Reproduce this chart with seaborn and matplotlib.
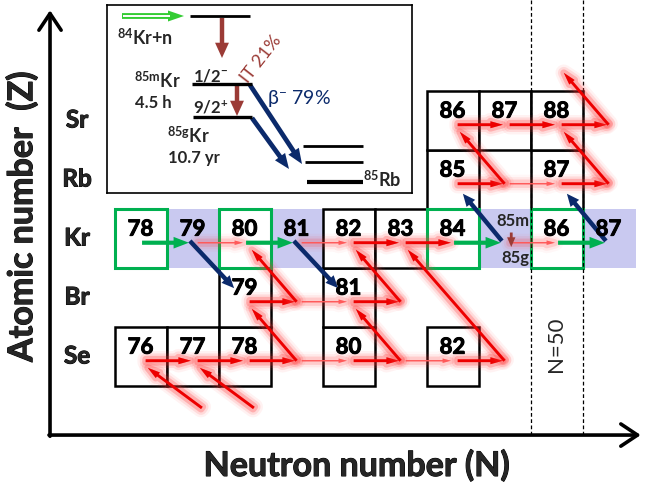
import matplotlib
matplotlib.use("Agg")
import matplotlib.pyplot as plt
import matplotlib.patheffects as pe
from matplotlib.patches import Rectangle, FancyArrowPatch, Polygon
import seaborn as sns

sns.set_theme(style="white")
plt.rcParams["font.family"] = ["Lato", "DejaVu Sans"]
plt.rcParams["mathtext.fontset"] = "custom"
plt.rcParams["mathtext.rm"] = "Lato"
plt.rcParams["mathtext.bf"] = "Lato:bold"
plt.rcParams["mathtext.it"] = "Lato:italic"

# ---------------- chart of nuclides: s-process path around Kr ----------------
element_symbols = ["Se", "Br", "Kr", "Rb", "Sr"]
element_Z = [34, 35, 36, 37, 38]

# boxed nuclides (Z, mass number A)
black_cells_Z = [34, 34, 34, 34, 34, 35, 35, 36, 36, 37, 37, 38, 38, 38]
black_cells_A = [76, 77, 78, 80, 82, 79, 81, 82, 83, 85, 87, 86, 87, 88]
green_cells_Z = [36, 36, 36, 36]
green_cells_A = [78, 80, 84, 86]
open_cells_Z = [36, 36, 36]
open_cells_A = [79, 81, 87]
isomer_Z = 36
isomer_A = 85

# neutron captures (Z, target A, kind): s = main flow, w = weak flow, g = Kr activation
capture_Z = [34, 34, 34, 34, 34, 34, 34,
             35, 35, 35,
             36, 36, 36, 36, 36, 36, 36, 36, 36,
             37, 37, 37,
             38, 38, 38]
capture_A = [76, 77, 78, 79, 80, 81, 82,
             79, 80, 81,
             78, 79, 80, 81, 82, 83, 84, 85, 86,
             85, 86, 87,
             86, 87, 88]
capture_kind = ["s", "s", "s", "w", "s", "w", "s",
                "s", "w", "s",
                "g", "w", "g", "w", "s", "s", "g", "w", "g",
                "s", "w", "s",
                "s", "s", "s"]

# beta-minus decays along the path (from Z, A) -> to Z
beta_from_Z = [34, 34, 34, 35, 35, 37, 37, 38, 33, 33]
beta_from_A = [79, 81, 83, 80, 82, 86, 88, 89, 76, 77]
beta_to_Z = [35, 35, 36, 36, 36, 38, 38, 39, 34, 34]

# Kr decays (from A) -> to Z
kr_decay_A = [79, 81, 85, 87]
kr_decay_to_Z = [35, 35, 37, 37]

magic_N = 50

# ---------------- colours ----------------
RED = (0.93, 0.0, 0.0)
WEAK_RED = (1.0, 0.35, 0.35)
GREEN = "#00b050"
NAVY = "#0b2a6b"
BROWN = "#9b3b36"
BAND = "#c9c9f0"

heavy = [pe.withStroke(linewidth=0.7, foreground="black")]

# ---------------- figure / coordinate frame (x = N, y = Z) ----------------
fig = plt.figure(figsize=(6.47, 4.82), dpi=100)
ax = fig.add_axes([0, 0, 1, 1])
px_n, px_z = 52.0, 59.0
ax.set_xlim(42 - 140.5 / px_n, 42 + (647 - 140.5) / px_n)
ax.set_ylim(36 - (482 - 238) / px_z, 36 + 238 / px_z)
ax.axis("off")

axis_n, axis_z = 40.26, 32.66

# Kr band
ax.add_patch(Rectangle((42.5, 35.5), 51.53 - 42.5, 1.0, facecolor=BAND,
                       edgecolor="none", zorder=1))

num_kw = dict(ha="center", va="center", fontsize=16, fontweight="bold",
              color="black", zorder=6, path_effects=heavy)
for z, a in zip(black_cells_Z, black_cells_A):
    n = a - z
    ax.add_patch(Rectangle((n - 0.5, z - 0.5), 1, 1, facecolor="white",
                           edgecolor="black", lw=1.8, zorder=2))
    ax.text(n, z + 0.15, str(a), **num_kw)
for z, a in zip(green_cells_Z, green_cells_A):
    n = a - z
    ax.add_patch(Rectangle((n - 0.5, z - 0.5), 1, 1, facecolor="white",
                           edgecolor=GREEN, lw=2.2, zorder=2.5))
    ax.text(n, z + 0.15, str(a), **num_kw)
for z, a in zip(open_cells_Z, open_cells_A):
    ax.text(a - z, z + 0.15, str(a), **num_kw)

# isomer / ground state of 85Kr
n85 = isomer_A - isomer_Z
ax.text(n85 + 0.16, isomer_Z + 0.29, f"{isomer_A}m", ha="center", va="center",
        fontsize=12, fontweight="bold", zorder=6)
ax.text(n85 + 0.2, isomer_Z - 0.34, f"{isomer_A}g", ha="center", va="center",
        fontsize=12, fontweight="bold", zorder=6)
ax.add_patch(FancyArrowPatch((n85 + 0.13, isomer_Z + 0.14), (n85 + 0.13, isomer_Z - 0.2),
                             arrowstyle="simple,head_length=0.35,head_width=0.3,tail_width=0.1",
                             mutation_scale=20, color=BROWN, lw=0, zorder=5))

# N = 50 shell closure
for xb in (magic_N - 0.5, magic_N + 0.5):
    ax.plot([xb, xb], [axis_z, ax.get_ylim()[1]], color="black", lw=0.9,
            ls=(0, (3, 2)), zorder=3)
ax.text(magic_N, 34.2, f"N={magic_N}", rotation=90, ha="center", va="center",
        fontsize=16, zorder=6)


def glow(weak=False):
    a = 0.6 if weak else 1.0
    return [pe.Stroke(linewidth=12, foreground=(1, 0.3, 0.3), alpha=0.07 * a),
            pe.Stroke(linewidth=8.5, foreground=(1, 0.25, 0.25), alpha=0.13 * a),
            pe.Stroke(linewidth=5, foreground=(1, 0.15, 0.15), alpha=0.24 * a),
            pe.Normal()]


def red_arrow(p0, p1, weak=False):
    if weak:
        style = "simple,head_length=0.3,head_width=0.16,tail_width=0.05"
        col = WEAK_RED
    else:
        style = "simple,head_length=0.45,head_width=0.25,tail_width=0.1"
        col = RED
    ax.add_patch(FancyArrowPatch(p0, p1, arrowstyle=style, mutation_scale=20,
                                 color=col, lw=0, shrinkA=0, shrinkB=0,
                                 path_effects=glow(weak), zorder=4))


# neutron captures
for z, a, k in zip(capture_Z, capture_A, capture_kind):
    n = a - z
    y = z - 0.08
    if k == "g":
        ax.add_patch(FancyArrowPatch((n + 0.03, y), (n + 0.93, y),
                                     arrowstyle="simple,head_length=0.55,head_width=0.42,tail_width=0.15",
                                     mutation_scale=20, color=GREEN, lw=0,
                                     shrinkA=0, shrinkB=0, zorder=4.5))
    else:
        red_arrow((n + 0.1, y), (n + 0.97, y), weak=(k == "w"))

# beta-minus decays
for z0, a, z1 in zip(beta_from_Z, beta_from_A, beta_to_Z):
    n0, n1 = a - z0, a - z1
    if z0 < element_Z[0]:
        start = (n0 + 0.18, z0 + 0.12)
    else:
        start = (n0, z0 - 0.08)
    red_arrow(start, (n1 + 0.14, z1 - 0.2))

# Kr decays
for a, z1 in zip(kr_decay_A, kr_decay_to_Z):
    z0 = 36
    n0, n1 = a - z0, a - z1
    start = (n0 - 0.05, z0 - 0.05)
    end = (n0 + 0.8 * (n1 - n0), z0 + 0.8 * (z1 - z0) - 0.05)
    ax.add_patch(FancyArrowPatch(start, end,
                                 arrowstyle="simple,head_length=0.45,head_width=0.4,tail_width=0.16",
                                 mutation_scale=20, color=NAVY, lw=0,
                                 shrinkA=0, shrinkB=0, zorder=5))

# element labels
for sym, z in zip(element_symbols, element_Z):
    ax.text(40.78, z, sym, ha="center", va="center", fontsize=17.5,
            fontweight="bold", zorder=6, path_effects=heavy)

# axes arrows
arrow_kw = dict(arrowstyle="->,head_length=0.6,head_width=0.4", lw=2.6,
                color="black", shrinkA=0, shrinkB=0, mutation_scale=20)
ax.annotate("", xy=(axis_n, 39.86), xytext=(axis_n, axis_z - 0.02), arrowprops=arrow_kw)
ax.annotate("", xy=(51.62, axis_z), xytext=(axis_n - 0.02, axis_z), arrowprops=arrow_kw)
ax.text(39.72, 36.36, "Atomic number  (Z)", rotation=90, ha="center", va="center",
        fontsize=24.5, fontweight="bold", path_effects=heavy)
ax.text(46.16, 32.14, "Neutron number (N)", ha="center", va="center",
        fontsize=24.5, fontweight="bold", path_effects=heavy)

# ---------------- level scheme inset (pixel-like units) ----------------
ins = fig.add_axes([107 / 647, 1 - 193 / 482, 305 / 647, 188 / 482])
ins.set_xlim(107, 412)
ins.set_ylim(193, 5)
ins.set_xticks([])
ins.set_yticks([])
ins.set_facecolor("white")
for sp in ins.spines.values():
    sp.set_visible(True)
    sp.set_color("black")
    sp.set_linewidth(1.2)

level_x0 = [190, 192, 193, 303, 305, 307]
level_x1 = [250, 252, 252, 363, 363, 363]
level_y = [16, 84, 117, 146, 162, 182]
level_lw = [2.0, 2.4, 2.4, 2.0, 2.0, 3.0]
for x0, x1, y, lw in zip(level_x0, level_x1, level_y, level_lw):
    ins.plot([x0, x1], [y, y], color="black", lw=lw, solid_capstyle="butt")

# incoming neutron (hollow green arrow)
ins.plot([122, 170], [16, 16], color="#33cc33", lw=4.2, solid_capstyle="butt")
ins.plot([123, 170], [16, 16], color="white", lw=1.4, solid_capstyle="butt")
ins.add_patch(Polygon([[168, 10.5], [184, 16], [168, 21.5]], closed=True,
                      color="#33cc33", lw=0))

brown_style = "simple,head_length=0.55,head_width=0.5,tail_width=0.16"
for (x0, y0), (x1, y1) in [((222, 18), (222, 58)), ((237, 86), (237, 116))]:
    ins.add_patch(FancyArrowPatch((x0, y0), (x1, y1), arrowstyle=brown_style,
                                  mutation_scale=20, color=BROWN, lw=0,
                                  shrinkA=0, shrinkB=0))
navy_style = "simple,head_length=0.55,head_width=0.45,tail_width=0.17"
for (x0, y0), (x1, y1) in [((250, 85), (302, 164)), ((252, 118), (289, 169))]:
    ins.add_patch(FancyArrowPatch((x0, y0), (x1, y1), arrowstyle=navy_style,
                                  mutation_scale=20, color=NAVY, lw=0,
                                  shrinkA=0, shrinkB=0))

lab = dict(fontsize=13, fontweight="bold", va="baseline", ha="left")
ins.text(117, 45, r"$^{\mathbf{84}}$Kr+n", **lab)
ins.text(134, 88, r"$^{\mathbf{85m}}$Kr", **lab)
ins.text(135, 108, "4.5 h", fontsize=12, fontweight="bold", va="baseline")
ins.text(193, 82, r"1/2$^{\mathbf{-}}$", fontsize=12, fontweight="bold", va="baseline")
ins.text(193, 113, r"9/2$^{\mathbf{+}}$", fontsize=12, fontweight="bold", va="baseline")
ins.text(167, 143, r"$^{\mathbf{85g}}$Kr", **lab)
ins.text(168, 163, "10.7 yr", fontsize=12, fontweight="bold", va="baseline")
ins.text(363, 187, r"$^{\mathbf{85}}$Rb", **lab)
ins.text(261, 59, "IT 21%", rotation=52, color=BROWN, fontsize=13,
         ha="center", va="center")
ins.text(267, 104, r"β$^{-}$ 79%", color=NAVY, fontsize=14, va="baseline")

fig.savefig("out.png", dpi=100)
